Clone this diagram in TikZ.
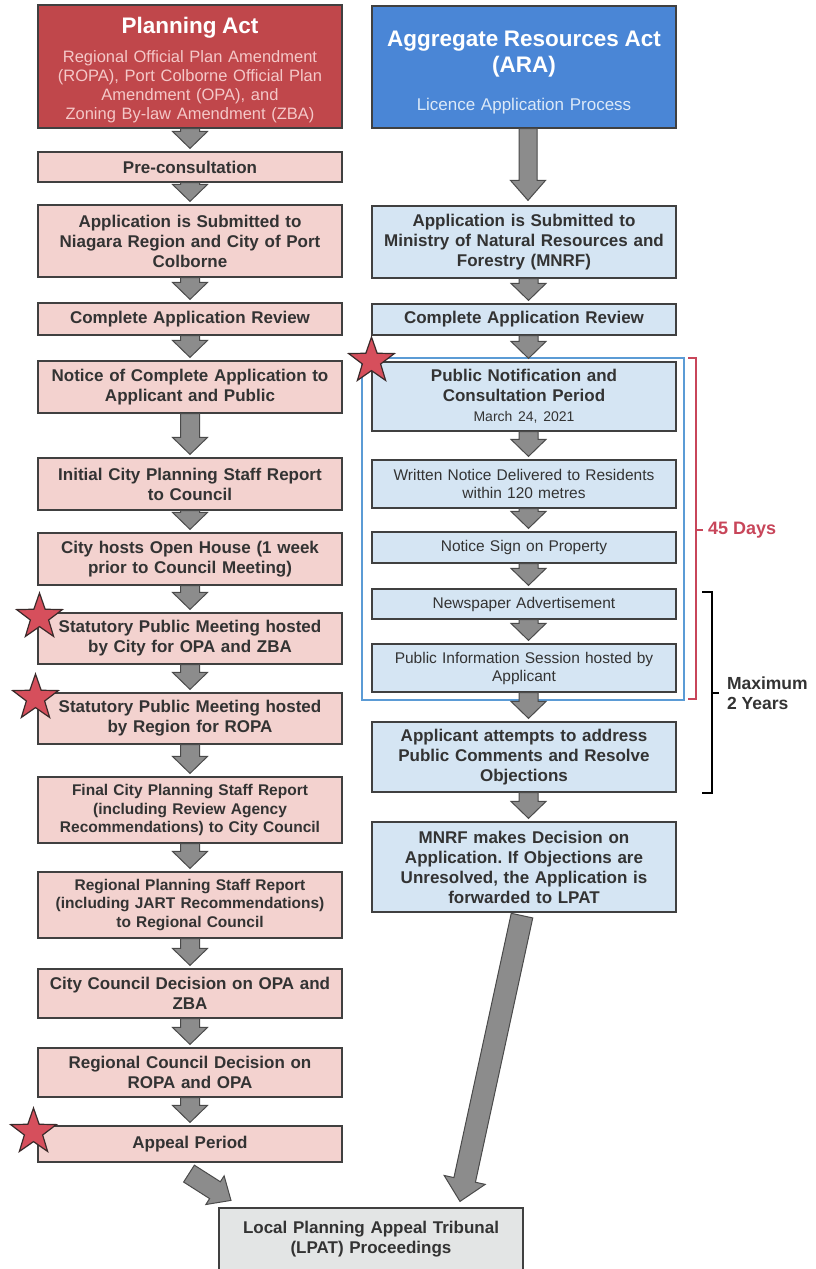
\documentclass[tikz,border=0pt]{standalone}
\usepackage{fontspec}
\setmainfont{Liberation Sans}
\usetikzlibrary{shapes.geometric,calc}
\frenchspacing
\definecolor{txt}{HTML}{333333}
\definecolor{bord}{HTML}{404040}
\definecolor{hdrred}{HTML}{C0474B}
\definecolor{pinktxt}{HTML}{F4C8C8}
\definecolor{hdrblue}{HTML}{4A86D6}
\definecolor{bluetxt}{HTML}{DCE9F8}
\definecolor{pinkfill}{HTML}{F3D2CF}
\definecolor{bluefill}{HTML}{D5E5F3}
\definecolor{lpatfill}{HTML}{E3E5E5}
\definecolor{arrfill}{HTML}{8C8C8C}
\definecolor{arrdraw}{HTML}{4A4A4A}
\definecolor{outblue}{HTML}{5B9BD5}
\definecolor{brred}{HTML}{C8465A}
\definecolor{starred}{HTML}{D64F5C}
\definecolor{stardark}{HTML}{3A2A2A}
\newcommand\barrow[5]{%
  \draw[blk] let \p1=(#1), \p2=(#2),
    \n1={veclen(\x2-\x1,\y2-\y1)},
    \n2={(\x2-\x1)/\n1}, \n3={(\y2-\y1)/\n1}, \n4={\n1-#5}
  in ({\x1-#3*(\n3)},{\y1+#3*(\n2)})
  -- ({\x1+\n4*(\n2)-#3*(\n3)},{\y1+\n4*(\n3)+#3*(\n2)})
  -- ({\x1+\n4*(\n2)-#4*(\n3)},{\y1+\n4*(\n3)+#4*(\n2)})
  -- (\x2,\y2)
  -- ({\x1+\n4*(\n2)+#4*(\n3)},{\y1+\n4*(\n3)-#4*(\n2)})
  -- ({\x1+\n4*(\n2)+#3*(\n3)},{\y1+\n4*(\n3)-#3*(\n2)})
  -- ({\x1+#3*(\n3)},{\y1-#3*(\n2)}) -- cycle;}
\newcommand\larrow[2]{\barrow{#1.south}{[yshift=3pt]#2.north}{9.5}{17.5}{17}}
\newcommand\rarrow[2]{\barrow{[xshift=4.5pt]#1.south}{[xshift=4.5pt,yshift=3pt]#2.north}{9.5}{17.5}{17}}
\begin{document}
\begin{tikzpicture}[x=1pt,y=-1pt,
  blk/.style={fill=arrfill, draw=arrdraw, line width=1pt, line join=miter},
  lbox/.style={draw=bord, line width=1.2pt, fill=pinkfill, text=txt, align=center,
    minimum width=304pt, text width=298pt, inner xsep=3pt, inner ysep=0pt,
    font=\fontsize{17}{20}\selectfont\bfseries},
  rbox/.style={lbox, fill=bluefill},
  rsub/.style={rbox, font=\fontsize{15.5}{18}\selectfont},
  lsmall/.style={lbox, font=\fontsize{15.5}{18.5}\selectfont\bfseries},
  hdr/.style={lbox, text=white},
  starst/.style={star, star points=5, star point ratio=2.5, minimum size=48pt,
    inner sep=0pt, fill=starred, draw=stardark, line width=1.2pt},
  brk/.style={line width=2pt}
]
\useasboundingbox[fill=white] (0,0) rectangle (815,1269);

% blue outline of the 45 days group
\draw[outblue, line width=2pt] (362,358) rectangle (684,700);

% ---------- left column ----------
\node[hdr, fill=hdrred, minimum height=123pt] (hdrL) at (190,66.5)
 {{\fontsize{22.5}{26}\selectfont\bfseries\rule{0pt}{23.5pt}Planning Act\par}\vspace{10pt}
  {\fontsize{16.5}{19}\selectfont\mdseries\color{pinktxt}Regional Official Plan Amendment\\
  (ROPA), Port Colborne Official Plan\\ Amendment (OPA), and\\ Zoning By-law Amendment (ZBA)\par}};
\node[lbox, minimum height=30pt] (pre) at (190,167) {Pre-consultation};
\node[lbox, minimum height=72pt] (appL) at (190,241)
 {Application is Submitted to\\ Niagara Region and City of Port\\ Colborne};
\node[lbox, minimum height=32pt] (revL) at (190,319) {Complete Application Review};
\node[lbox, minimum height=52pt] (notice) at (190,387)
 {Notice of Complete Application to\\ Applicant and Public};
\node[lbox, minimum height=52pt] (initial) at (190,484)
 {Initial City Planning Staff Report\\ to Council};
\node[lbox, minimum height=52pt] (openh) at (190,559)
 {City hosts Open House (1 week\\ prior to Council Meeting)};
\node[lbox, minimum height=51pt] (statC) at (190,638.5)
 {Statutory Public Meeting hosted\\ by City for OPA and ZBA};
\node[lbox, minimum height=51pt] (statR) at (190,718.5)
 {Statutory Public Meeting hosted\\ by Region for ROPA};
\node[lsmall, minimum height=66pt] (finalC) at (190,810)
 {Final City Planning Staff Report\\ (including Review Agency\\ Recommendations) to City Council};
\node[lsmall, minimum height=66pt] (regStaff) at (190,905)
 {Regional Planning Staff Report\\ (including JART Recommendations)\\ to Regional Council};
\node[lbox, minimum height=49pt] (cityDec) at (190,993.5)
 {City Council Decision on OPA and\\ ZBA};
\node[lbox, minimum height=49pt] (regDec) at (190,1072.5)
 {Regional Council Decision on\\ ROPA and OPA};
\node[lbox, minimum height=36pt] (appeal) at (190,1144) {Appeal Period};

% ---------- right column ----------
\node[hdr, fill=hdrblue, minimum height=122pt] (hdrR) at (524,67)
 {{\fontsize{22.5}{26}\selectfont\bfseries\rule{0pt}{26.5pt}Aggregate Resources Act\\ (ARA)\par}\vspace{18pt}
  {\fontsize{17}{20}\selectfont\mdseries\color{bluetxt}Licence Application Process\par}};
\node[rbox, minimum height=72pt] (appR) at (524,242)
 {Application is Submitted to\\ Ministry of Natural Resources and\\ Forestry (MNRF)};
\node[rbox, minimum height=31pt] (revR) at (524,319.5) {Complete Application Review};
\node[rbox, minimum height=69pt] (pubN) at (524,396.5)
 {Public Notification and\\ Consultation Period\\ {\fontsize{14}{17}\selectfont\mdseries March 24, 2021}};
\node[rsub, minimum height=48pt] (written) at (524,484)
 {Written Notice Delivered to Residents\\ within 120 metres};
\node[rsub, minimum height=31pt] (sign) at (524,547.5) {Notice Sign on Property};
\node[rsub, minimum height=30pt] (news) at (524,604) {Newspaper Advertisement};
\node[rsub, minimum height=48pt] (pinfo) at (524,668)
 {Public Information Session hosted by\\ Applicant};
\node[rbox, minimum height=70pt] (attempt) at (524,757)
 {Applicant attempts to address\\ Public Comments and Resolve\\ Objections};
\node[rbox, minimum height=90pt] (mnrf) at (524,867)
 {MNRF makes Decision on\\ Application. If Objections are\\ Unresolved, the Application is\\ forwarded to LPAT};

% ---------- LPAT ----------
\node[lbox, fill=lpatfill, minimum height=62pt] (lpat) at (371,1239)
 {Local Planning Appeal Tribunal\\ (LPAT) Proceedings\\[8pt]};

% ---------- arrows ----------
\larrow{hdrL}{pre}
\larrow{pre}{appL}
\larrow{appL}{revL}
\larrow{revL}{notice}
\larrow{notice}{initial}
\larrow{initial}{openh}
\larrow{openh}{statC}
\larrow{statC}{statR}
\larrow{statR}{finalC}
\larrow{finalC}{regStaff}
\larrow{regStaff}{cityDec}
\larrow{cityDec}{regDec}
\larrow{regDec}{appeal}
\barrow{[xshift=4pt]hdrR.south}{[xshift=4pt,yshift=5pt]appR.north}{9}{17.5}{20}
\rarrow{appR}{revR}
\rarrow{revR}{pubN}
\rarrow{pubN}{written}
\rarrow{written}{sign}
\rarrow{sign}{news}
\rarrow{news}{pinfo}
\rarrow{pinfo}{attempt}
\rarrow{attempt}{mnrf}
\barrow{[xshift=-1pt,yshift=-11pt]appeal.south}{[xshift=-140pt,yshift=7pt]lpat.north}{10}{17}{19}
\barrow{[xshift=-2pt,yshift=-3pt]mnrf.south}{[xshift=89pt,yshift=6pt]lpat.north}{11}{21}{22}

% ---------- brackets ----------
\coordinate (r1) at (688,358);
\coordinate (r2) at (688,699);
\draw[brred, brk] (r1) -- ++(8,0) |- (r2);
\coordinate (rt) at (696,530);
\draw[brred, brk] (rt) -- ++(7,0) node[right, text=brred, inner xsep=4pt,
  font=\fontsize{18}{20}\selectfont\bfseries] (days) {45 Days};
\coordinate (k1) at (702,592);
\coordinate (k2) at (702,793);
\draw[black, brk] (k1) -- ++(10,0) |- (k2);
\coordinate (kt) at (712,693);
\draw[black, brk] (kt) -- ++(7,0) node[right, align=left, text=txt, inner xsep=7pt,
  font=\fontsize{17.5}{20}\selectfont\bfseries] (maxy) {Maximum\\2 Years};

% ---------- stars ----------
\node[starst] (st1) at (371.5,361) {};
\node[starst] (st2) at (39.5,617) {};
\node[starst] (st3) at (35.5,698) {};
\node[starst] (st4) at (33.5,1132) {};
\end{tikzpicture}
\end{document}
